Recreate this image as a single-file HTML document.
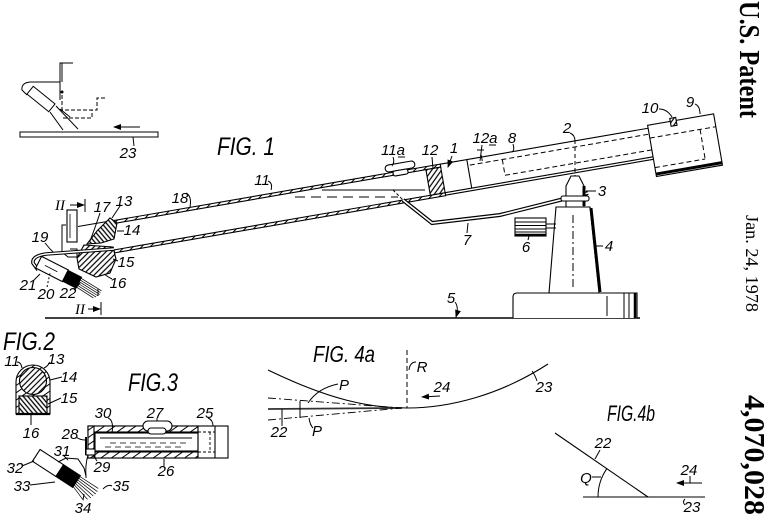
<!DOCTYPE html>
<html><head><meta charset="utf-8"><style>
html,body{margin:0;padding:0;background:#fff;}
svg{display:block;}
text{font-family:"Liberation Sans",sans-serif;font-style:italic;fill:#000;stroke:none;}
.l{font-size:15px;text-anchor:middle;}
.f{font-size:25px;}
</style></head><body>
<svg width="770" height="526" viewBox="0 0 770 526" xmlns="http://www.w3.org/2000/svg">
<defs>
<pattern id="h" width="4" height="4" patternUnits="userSpaceOnUse" patternTransform="rotate(45)"><rect width="4" height="4" fill="#fff"/><line x1="1" y1="0" x2="1" y2="4" stroke="#000" stroke-width="1.2"/></pattern>
<pattern id="hb" width="3.5" height="3.5" patternUnits="userSpaceOnUse" patternTransform="rotate(-40)"><rect width="4" height="4" fill="#fff"/><line x1="1" y1="0" x2="1" y2="4" stroke="#000" stroke-width="1.3"/></pattern>
<pattern id="hw" width="6" height="6" patternUnits="userSpaceOnUse" patternTransform="rotate(55)"><rect width="6" height="6" fill="#fff"/><line x1="1" y1="0" x2="1" y2="6" stroke="#000" stroke-width="1"/></pattern>
<marker id="ah" markerWidth="8" markerHeight="6" refX="7" refY="3" orient="auto" markerUnits="userSpaceOnUse"><path d="M0,0 L8,3 L0,6 Z" fill="#000"/></marker>
</defs>

<g fill="none" stroke="#000" stroke-width="1.1">

<!-- ===== top-left sketch ===== -->
<g stroke-width="1">
<rect x="20" y="132" width="138" height="5"/>
<line x1="140" y1="127" x2="114" y2="127" marker-end="url(#ah)"/>
<path d="M133,137 L134,146"/>
<path d="M60,100 V63 H73 M62,63 V82"/>
<path d="M60,82 H30 Q21,83 22,90 L27,95"/>
<g transform="translate(41,99) rotate(39)"><rect x="-14" y="-5" width="28" height="10"/></g>
<path d="M50,112 L63,130 M56,106 L78,129 M60,109 L70,117"/>
<circle cx="62" cy="92" r="1" fill="#000"/>
<path d="M62,95 V110 H97 V98 H107" stroke-dasharray="4,2"/>
<path d="M63,118 H92 V110" stroke-dasharray="4,2"/>
</g>
<text x="128" y="158" class="l">23</text>

<!-- ===== FIG 1 ===== -->
<text x="217" y="155" class="f" textLength="58" lengthAdjust="spacingAndGlyphs">FIG. 1</text>

<!-- ground -->
<line x1="45" y1="318" x2="640" y2="318" stroke-width="1.6"/>

<!-- tube group -->
<g transform="translate(250,197) rotate(-9.8)">
  <rect x="-142" y="0" width="335" height="3" fill="url(#hw)"/>
  <rect x="-143" y="29" width="336" height="3" fill="url(#hw)"/>
  <rect x="178" y="3" width="15" height="26" fill="url(#h)"/>
  <line x1="193" y1="0" x2="404" y2="0"/>
  <line x1="193" y1="29" x2="404" y2="29"/>
  <line x1="193" y1="31.5" x2="404" y2="31.5"/>
  <line x1="220" y1="0" x2="220" y2="29"/>
  <path d="M222,6 H404 M255,6 V22 H404" stroke-dasharray="5,3" stroke-width="1"/>
  <path d="M235,-2 V4" stroke-width="1"/>
  <rect x="404" y="-3" width="67" height="52" fill="#fff"/>
  <line x1="404" y1="46.5" x2="471" y2="46.5" stroke-width="3"/>
  <path d="M404,10 H471 M455,10 V40 M404,40 H455" stroke-dasharray="5,3" stroke-width="1"/>
  <rect x="427" y="-6" width="6" height="8" fill="url(#h)"/>
  <rect x="138" y="-8" width="30" height="7" rx="3.5" fill="#fff"/>
  <rect x="145" y="-1" width="15" height="5" rx="2" fill="#fff"/>
</g>

<line x1="110" y1="221" x2="78" y2="226.5"/>
<line x1="322" y1="190" x2="425" y2="190"/>
<line x1="295" y1="197" x2="398" y2="197" stroke-dasharray="10,6" stroke-width="1"/>
<line x1="575" y1="140" x2="575" y2="178" stroke-dasharray="4,3" stroke-width="1"/>

<!-- arm 7 -->
<path d="M393,190 L403,200" stroke-dasharray="3,2" stroke-width="1"/>
<path d="M403,200 L432,223 L500,215 L588,193" stroke-width="4"/>
<path d="M403,200 L432,223 L500,215 L588,193" stroke="#fff" stroke-width="1.6"/>

<!-- pivot 3 -->
<path d="M566,207 V186 L571,176 H579 L584,186 V207 Z" fill="#fff"/>
<line x1="584" y1="186" x2="584" y2="206" stroke-width="3"/>
<rect x="561" y="196" width="28" height="5" rx="2" fill="#fff"/>

<!-- stand 4 -->
<path d="M556,207 H590 L599,293 H549 Z" fill="#fff"/>
<line x1="591" y1="208" x2="600" y2="292" stroke-width="3"/>
<line x1="573" y1="215" x2="573" y2="290" stroke-dasharray="8,3,2,3" stroke-width="1"/>

<!-- base -->
<path d="M513,318 V297 Q513,293 517,293 H637 V318" fill="#fff"/>
<path d="M607,296 V316 M624,293 V318 M629,293 V318" stroke-width="1"/>
<line x1="635" y1="293" x2="635" y2="318" stroke-width="2.5"/>

<!-- knob 6 -->
<rect x="515" y="218" width="31" height="18" fill="#fff"/>
<path d="M515,222 H546 M515,225.5 H546 M515,229 H546 M515,232 H546" stroke-width="1"/>
<line x1="515" y1="235" x2="546" y2="235" stroke-width="2.5"/>
<path d="M546,224 H556 M546,228 H556" stroke-width="1"/>

<!-- head -->
<rect x="67" y="210" width="10" height="32" fill="#fff"/>
<path d="M70,214 V238" stroke-width="0.8"/>
<path d="M66,225 H62 V252 L68,257 H77 V249 H70" stroke-width="1"/>
<polygon points="110,218 117,223 114,239 101,243 87,244 97,231" fill="url(#hb)"/>
<polygon points="84,245 113,247 116,259 110,273 96,277 79,269 77,258" fill="url(#h)"/>
<path d="M114,249 L46,254 Q32,256 33,263 L38,270" stroke-width="3.6"/>
<path d="M114,249 L46,254 Q32,256 33,263 L38,270" stroke="#fff" stroke-width="1.4"/>
<g transform="translate(52,269) rotate(27)">
  <rect x="-15" y="-6.5" width="30" height="13" fill="#fff"/>
  <path d="M-8,0 H6" stroke-width="0.8"/>
  <rect x="15" y="-6" width="15" height="12" fill="#000"/>
  <path d="M30,-5 L54,-3 M30,-3 L54,-1 M30,-1 L54,1 M30,1 L53,3 M30,3 L52,5 M30,5 L50,7" stroke-width="0.7"/>
</g>
<path d="M98,289 V296" stroke-width="1"/>

<line x1="70" y1="205" x2="84" y2="205" stroke-width="1" marker-end="url(#ah)"/>
<line x1="85" y1="199" x2="85" y2="212" stroke-width="1"/>
<line x1="88" y1="309" x2="100" y2="309" stroke-width="1" marker-end="url(#ah)"/>
<line x1="101" y1="302" x2="101" y2="315" stroke-width="1"/>

<g stroke-width="1">
<path d="M186,193 q6,3 4,14"/>
<path d="M268,181 q5,2 3,9"/>
<path d="M393,157 q2,5 -1,9"/>
<path d="M432,157 l1,12"/>
<path d="M452,156 L448,167" marker-end="url(#ah)"/>
<path d="M482,145 l-2,16 M477,150 h7"/>
<path d="M513,144 q2,6 -1,8"/>
<path d="M570,133 q5,2 5,8"/>
<path d="M659,109 q8,0 13,8"/>
<path d="M695,104 q5,2 5,10"/>
<path d="M596,191 H586"/>
<path d="M603,246 H596"/>
<path d="M528,240 L529,236"/>
<path d="M467,233 L468,223"/>
<path d="M455,302 q4,5 1,15" marker-end="url(#ah)"/>
<path d="M120,206 L112,218"/>
<path d="M124,231 H117"/>
<path d="M118,261 L113,259"/>
<path d="M112,279 q-4,-2 -8,-5"/>
<path d="M45,243 q4,5 8,9"/>
<path d="M33,281 L40,274"/>
<path d="M47,287 L50,273" stroke-dasharray="2,2"/>
<path d="M74,290 L80,283"/>
<path d="M100,213 Q95,228 90,241"/>
</g>

<!-- ===== FIG 2 ===== -->
<text x="3" y="350" class="f" textLength="52" lengthAdjust="spacingAndGlyphs">FIG.2</text>
<path d="M16,414 V382 A17,17 0 0 1 50,382 V414 Z" fill="url(#hw)"/>
<circle cx="33" cy="381" r="13.5" fill="url(#h)"/>
<rect x="19" y="396" width="28" height="18" fill="url(#hb)"/>
<line x1="16" y1="414" x2="50" y2="414" stroke-width="2.2"/>
<g stroke-width="1">
<path d="M17,362 q4,0 5,6"/>
<path d="M50,362 q-2,4 -6,6"/>
<path d="M62,377 L50,380"/>
<path d="M61,398 L48,404"/>
<path d="M31,425 L31,415"/>
</g>

<!-- ===== FIG 3 ===== -->
<text x="128" y="391" class="f" textLength="50" lengthAdjust="spacingAndGlyphs">FIG.3</text>
<rect x="88" y="426" width="140" height="32" fill="#fff"/>
<rect x="88" y="426" width="110" height="6" fill="url(#hw)"/>
<rect x="88" y="452" width="110" height="6" fill="url(#hw)"/>
<rect x="88" y="426" width="6" height="32" fill="url(#hw)"/>
<rect x="95" y="433" width="103" height="18" fill="#fff"/>
<path d="M100,438 H192" stroke-width="1"/>
<path d="M110,443 H190 M105,447 H185" stroke-dasharray="6,4" stroke-width="0.8"/>
<line x1="198" y1="426" x2="198" y2="458"/>
<line x1="215" y1="426" x2="215" y2="458"/>
<path d="M210,432 V452 M198,432 H215 M198,452 H215" stroke-dasharray="3,2" stroke-width="0.9"/>
<rect x="143" y="421" width="29" height="10" rx="5" fill="#fff"/>
<rect x="148" y="428" width="18" height="6" rx="3" fill="#fff"/>
<path d="M86,437 V455" stroke-width="2"/>
<rect x="86" y="449" width="9" height="6" fill="#fff"/>
<g transform="translate(48,463) rotate(33)">
  <rect x="-14" y="-7" width="28" height="14" fill="#fff"/>
  <rect x="14" y="-7" width="20" height="14" fill="#000"/>
  <path d="M34,-6 L56,-6 M34,-4 L57,-3 M34,-2 L57,0 M34,0 L56,3 M34,2 L55,6 M34,4 L53,9 M34,6 L50,12" stroke-width="0.7"/>
</g>
<path d="M58,462 L66,458 L78,459 L84,468 L86,476" stroke-width="1"/>
<path d="M88,455 Q85,465 86,478" stroke-width="1"/>
<g stroke-width="1">
<path d="M108,418 q6,2 4,15"/>
<path d="M157,418 L157,421"/>
<path d="M208,418 q5,2 5,8"/>
<path d="M76,437 q4,3 9,3"/>
<path d="M97,461 q-3,-4 -2,-7"/>
<path d="M164,466 L164,459"/>
<path d="M63,455 L68,460"/>
<path d="M22,466 L34,461"/>
<path d="M30,485 L55,482"/>
<path d="M83,500 L84,494"/>
<path d="M112,486 q-4,-2 -9,3"/>
</g>

<!-- ===== FIG 4a ===== -->
<text x="313" y="362" class="f" style="font-size:23px" textLength="62" lengthAdjust="spacingAndGlyphs">FIG. 4a</text>
<path d="M268,370 C330,400 370,408 407,408 C450,408 500,395 548,364"/>
<line x1="407" y1="350" x2="407" y2="408" stroke-dasharray="5,3" stroke-width="1"/>
<line x1="268" y1="409" x2="402" y2="408" stroke-width="1.8" stroke="#333"/>
<path d="M268,398 L402,408 M268,420 L402,408" stroke-dasharray="8,3,2,3" stroke-width="0.9"/>
<g stroke-width="1">
<path d="M300,401 V409 M300,409 V418 M282,409 V420"/>
<path d="M338,384 Q318,388 308,403"/>
<path d="M313,428 q-3,-3 -4,-10"/>
<path d="M282,426 L282,420"/>
<path d="M416,362 q-6,0 -7,8"/>
<line x1="440" y1="396" x2="422" y2="397" marker-end="url(#ah)"/>
<path d="M537,381 q-2,-6 -5,-10"/>
</g>

<!-- ===== FIG 4b ===== -->
<text x="607" y="421" class="f" style="font-size:22px" textLength="48" lengthAdjust="spacingAndGlyphs">FIG.4b</text>
<line x1="555" y1="433" x2="648" y2="497"/>
<line x1="583" y1="497" x2="705" y2="497"/>
<path d="M598,497 A50,50 0 0 1 606.8,468.7" stroke-width="1"/>
<g stroke-width="1">
<path d="M592,477 H601"/>
<path d="M600,450 L595,459"/>
<line x1="702" y1="483" x2="677" y2="483" marker-end="url(#ah)"/>
<path d="M690,476 V483"/>
<path d="M685,505 q-3,-3 0,-6"/>
</g>
</g>

<!-- labels -->
<g>
<text x="60" y="210" class="l" style="font-family:'Liberation Serif',serif">II</text>
<text x="80" y="314" class="l" style="font-family:'Liberation Serif',serif">II</text>
<text x="102" y="212" class="l">17</text>
<text x="124" y="206" class="l">13</text>
<text x="180" y="203" class="l">18</text>
<text x="40" y="242" class="l">19</text>
<text x="132" y="235" class="l">14</text>
<text x="126" y="267" class="l">15</text>
<text x="118" y="288" class="l">16</text>
<text x="28" y="290" class="l">21</text>
<text x="46" y="299" class="l">20</text>
<text x="68" y="298" class="l">22</text>
<text x="262" y="185" class="l">11</text>
<text x="393" y="155" class="l">11a</text>
<line x1="398" y1="157" x2="405" y2="157" stroke="#000" stroke-width="1"/>
<text x="430" y="155" class="l">12</text>
<text x="454" y="153" class="l">1</text>
<text x="485" y="143" class="l">12a</text>
<line x1="489" y1="145" x2="496" y2="145" stroke="#000" stroke-width="1"/>
<text x="512" y="143" class="l">8</text>
<text x="567" y="133" class="l">2</text>
<text x="650" y="113" class="l">10</text>
<text x="690" y="107" class="l">9</text>
<text x="602" y="196" class="l">3</text>
<text x="609" y="251" class="l">4</text>
<text x="526" y="252" class="l">6</text>
<text x="467" y="245" class="l">7</text>
<text x="451" y="303" class="l">5</text>

<text x="12" y="366" class="l">11</text>
<text x="56" y="364" class="l">13</text>
<text x="69" y="382" class="l">14</text>
<text x="69" y="403" class="l">15</text>
<text x="31" y="438" class="l">16</text>

<text x="103" y="418" class="l">30</text>
<text x="155" y="418" class="l">27</text>
<text x="205" y="418" class="l">25</text>
<text x="70" y="439" class="l">28</text>
<text x="102" y="472" class="l">29</text>
<text x="166" y="476" class="l">26</text>
<text x="62" y="456" class="l">31</text>
<text x="15" y="473" class="l">32</text>
<text x="22" y="491" class="l">33</text>
<text x="83" y="513" class="l">34</text>
<text x="121" y="491" class="l">35</text>

<text x="344" y="390" class="l">P</text>
<text x="317" y="436" class="l">P</text>
<text x="279" y="437" class="l">22</text>
<text x="422" y="372" class="l">R</text>
<text x="442" y="392" class="l">24</text>
<text x="544" y="392" class="l">23</text>

<text x="586" y="483" class="l">Q</text>
<text x="603" y="448" class="l">22</text>
<text x="689" y="475" class="l">24</text>
<text x="692" y="512" class="l">23</text>
</g>

<!-- margin text -->
<text transform="translate(740,1) rotate(90)" style="font-family:'Liberation Serif',serif;font-style:normal;font-weight:bold;font-size:29px" textLength="117" lengthAdjust="spacingAndGlyphs">U.S. Patent</text>
<text transform="translate(746,215) rotate(90)" style="font-family:'Liberation Serif',serif;font-style:normal;font-size:18px" textLength="97" lengthAdjust="spacingAndGlyphs">Jan. 24, 1978</text>
<text transform="translate(745,395) rotate(90)" style="font-family:'Liberation Serif',serif;font-style:normal;font-weight:bold;font-size:28px" textLength="120" lengthAdjust="spacingAndGlyphs">4,070,028</text>
</svg>
</body></html>
